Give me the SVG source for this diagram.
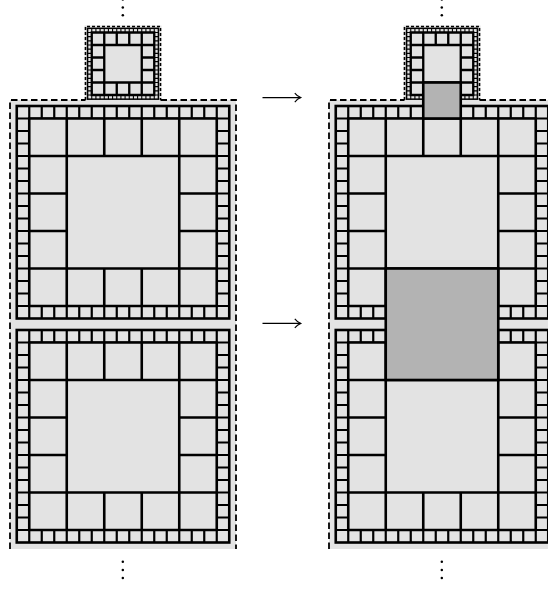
<svg xmlns="http://www.w3.org/2000/svg" xmlns:xlink="http://www.w3.org/1999/xlink" width="548" height="589" viewBox="0 0 548 589">
<style>
.bg{fill:#e3e3e3;stroke:none}
.cf{fill:#e3e3e3;stroke:none}
.rl{fill:none;stroke:#000;stroke-width:var(--rw)}
.gl{fill:none;stroke:#000;stroke-width:var(--gw)}
.fr{fill:none;stroke:#000;stroke-width:var(--fw)}
.big{--rw:2.2;--gw:2.6;--fw:2.6}
.small{--rw:3.3;--gw:7;--fw:4.5}
.dash{fill:none;stroke:#000;stroke-width:1.8;stroke-dasharray:6.5 3.5}
.dash2{fill:none;stroke:#000;stroke-width:1.6;stroke-dasharray:3 2}
.dark{fill:#b3b3b3;stroke:#000;stroke-width:2.6}
.dot{fill:#000}
.arr{fill:none;stroke:#000;stroke-width:1.1}
</style>
<defs>
<g id="blk">
<rect class="cf" width="212.5" height="212.5"/>
<path class="rl" d="M12.5 0V212.5M25 0V212.5M37.5 0V212.5M50 0V212.5M62.5 0V212.5M75 0V212.5M87.5 0V212.5M100 0V212.5M112.5 0V212.5M125 0V212.5M137.5 0V212.5M150 0V212.5M162.5 0V212.5M175 0V212.5M187.5 0V212.5M200 0V212.5M0 12.5H212.5M0 25H212.5M0 37.5H212.5M0 50H212.5M0 62.5H212.5M0 75H212.5M0 87.5H212.5M0 100H212.5M0 112.5H212.5M0 125H212.5M0 137.5H212.5M0 150H212.5M0 162.5H212.5M0 175H212.5M0 187.5H212.5M0 200H212.5"/>
<rect class="cf" x="12.5" y="12.5" width="187.5" height="187.5"/>
<path class="gl" d="M12.5 12.5H200V200H12.5ZM50 12.5V200M162.5 12.5V200M12.5 50H200M12.5 162.5H200M87.5 12.5V50M125 12.5V50M87.5 162.5V200M125 162.5V200M12.5 87.5H50M12.5 125H50M162.5 87.5H200M162.5 125H200"/>
<rect class="fr" width="212.5" height="212.5"/>
</g>
<marker id="ah" markerWidth="10" markerHeight="12" viewBox="-8 -6 9 12" refX="0" refY="0" orient="auto" markerUnits="userSpaceOnUse">
<path d="M-6 -4.5Q-3.5 -1.2 0 0Q-3.5 1.2 -6 4.5" fill="none" stroke="#000" stroke-width="1.1"/>
</marker>
</defs>

<g id="left-background">
<rect class="bg" x="10" y="100" width="226" height="449"/>
<rect class="bg" x="84.5" y="25.5" width="77" height="75"/>
<path class="dash" d="M10 549V100H85.5M160.5 100H236V549"/>
<path class="dash2" d="M85.5 100V26.5H160.5V100"/>
</g>
<g id="right-background">
<rect class="bg" x="329" y="100" width="226" height="449"/>
<rect class="bg" x="403.5" y="25.5" width="77" height="75"/>
<path class="dash" d="M329 549V100H404.5M479.5 100H555V549"/>
<path class="dash2" d="M404.5 100V26.5H479.5V100"/>
</g>

<g id="left-small"><use xlink:href="#blk" class="small" transform="translate(87.583 28.333) scale(0.333333)"/></g>
<g id="left-block-1"><use xlink:href="#blk" class="big" transform="translate(16.75 106)"/></g>
<g id="left-block-2"><use xlink:href="#blk" class="big" transform="translate(16.75 330)"/></g>

<g id="right-small"><use xlink:href="#blk" class="small" transform="translate(406.583 28.333) scale(0.333333)"/></g>
<g id="right-block-1"><use xlink:href="#blk" class="big" transform="translate(335.75 106)"/></g>
<g id="right-block-2"><use xlink:href="#blk" class="big" transform="translate(335.75 330)"/></g>
<g id="right-dark-small"><rect class="dark" x="423.25" y="82.5" width="37.5" height="36"/></g>
<g id="right-dark-big"><rect class="dark" x="385.75" y="268.5" width="112.5" height="111.5"/></g>

<g id="dots">
<circle class="dot" cx="122.8" cy="-0.5" r="1.25"/>
<circle class="dot" cx="122.8" cy="7.4" r="1.25"/>
<circle class="dot" cx="122.8" cy="15.3" r="1.25"/>
<circle class="dot" cx="122.8" cy="561.7" r="1.25"/>
<circle class="dot" cx="122.8" cy="570" r="1.25"/>
<circle class="dot" cx="122.8" cy="578" r="1.25"/>
<circle class="dot" cx="441.8" cy="-0.5" r="1.25"/>
<circle class="dot" cx="441.8" cy="7.4" r="1.25"/>
<circle class="dot" cx="441.8" cy="15.3" r="1.25"/>
<circle class="dot" cx="441.8" cy="561.7" r="1.25"/>
<circle class="dot" cx="441.8" cy="570" r="1.25"/>
<circle class="dot" cx="441.8" cy="578" r="1.25"/>
</g>

<g id="connectors">
<path class="arr" d="M262.5 97.6H300.8" marker-end="url(#ah)"/>
<path class="arr" d="M262.5 323.4H300.8" marker-end="url(#ah)"/>
</g>
</svg>
